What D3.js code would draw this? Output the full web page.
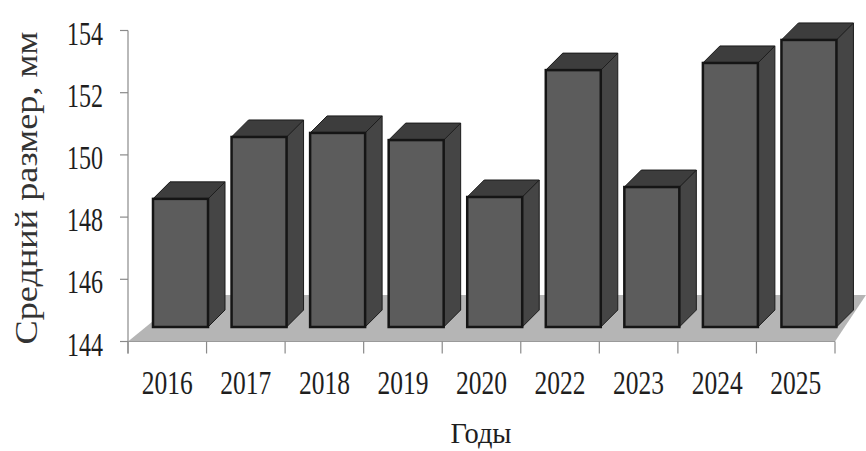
<!DOCTYPE html>
<html><head><meta charset="utf-8">
<script src="https://cdn.jsdelivr.net/npm/d3@7/dist/d3.min.js"></script>
<style>body{margin:0;background:#fff}svg{display:block}</style>
</head><body>
<svg id="c" width="866" height="451"></svg>
<script>
const categories = ["2016","2017","2018","2019","2020","2022","2023","2024","2025"];
const values = [148.12, 150.11, 150.24, 150.01, 148.18, 152.26, 148.5, 152.49, 153.23];
const yTicks = [144, 146, 148, 150, 152, 154];
const yTitle = "Средний размер, мм";
const xTitle = "Годы";

const svg = d3.select("#c");
const font = "'Liberation Serif','Times New Roman',serif";
const y = d3.scaleLinear().domain([144,154]).range([341.5,30.5]);
const x = d3.scaleBand().domain(categories).range([128,835]).padding(0);

// floor
const fy = y(144), backY = 295;
svg.append("polygon")
  .attr("points",[[128,fy],[835,fy],[866,backY],[185,backY]].map(p=>p.join(",")).join(" "))
  .attr("fill","#b5b5b5");

// axes
svg.append("line").attr("x1",128).attr("x2",128).attr("y1",y(154)).attr("y2",fy+12)
  .attr("stroke","#8a8a8a").attr("stroke-width",1.2);
svg.append("line").attr("x1",120).attr("x2",835).attr("y1",fy).attr("y2",fy)
  .attr("stroke","#9a9a9a").attr("stroke-width",1.2);
svg.selectAll(".yt").data(yTicks).join("line")
  .attr("x1",120).attr("x2",128).attr("y1",d=>y(d)).attr("y2",d=>y(d))
  .attr("stroke","#8a8a8a").attr("stroke-width",1.2);
const bounds = categories.map(c=>x(c)).concat([x.range()[1]]);
svg.selectAll(".xt").data(bounds).join("line")
  .attr("x1",d=>d).attr("x2",d=>d).attr("y1",fy).attr("y2",fy+12)
  .attr("stroke","#8a8a8a").attr("stroke-width",1.2);

// bars
const off = 25, bw = 55, dx = 17, dy = -17, shift = -14.5;
const g = svg.append("g");
categories.forEach((c,i)=>{
  const x0 = x(c)+off, x1 = x0+bw;
  const top = y(values[i])+shift, bot = y(144)+shift;
  const pts = a=>a.map(p=>p.join(",")).join(" ");
  g.append("polygon").attr("points",pts([[x1,top],[x1+dx,top+dy],[x1+dx,bot+dy],[x1,bot]]))
    .attr("fill","#454545").attr("stroke","#1c1c1c").attr("stroke-width",1);
  g.append("polygon").attr("points",pts([[x0,top],[x0+dx,top+dy],[x1+dx,top+dy],[x1,top]]))
    .attr("fill","#3d3d3d").attr("stroke","#1c1c1c").attr("stroke-width",1);
  g.append("rect").attr("x",x0).attr("y",top).attr("width",bw).attr("height",bot-top)
    .attr("fill","#5c5c5c").attr("stroke","#151515").attr("stroke-width",2.5);
});

// y tick labels
svg.selectAll(".yl").data(yTicks).join("text")
  .attr("x",103).attr("y",d=>y(d)+14).attr("text-anchor","end")
  .attr("font-family",font).attr("font-size",33).attr("fill","#1e1e1e")
  .attr("textLength",36).attr("lengthAdjust","spacingAndGlyphs")
  .text(d=>d);

// x labels
svg.selectAll(".xl").data(categories).join("text")
  .attr("x",d=>x(d)+x.bandwidth()/2).attr("y",394).attr("text-anchor","middle")
  .attr("font-family",font).attr("font-size",33).attr("fill","#1e1e1e")
  .attr("textLength",51).attr("lengthAdjust","spacingAndGlyphs")
  .text(d=>d);

// titles
svg.append("text").attr("x",481).attr("y",443).attr("text-anchor","middle")
  .attr("font-family",font).attr("font-size",30).attr("fill","#1e1e1e")
  .attr("textLength",61).attr("lengthAdjust","spacingAndGlyphs").text(xTitle);
svg.append("text").attr("transform","translate(37,188) rotate(-90)").attr("text-anchor","middle")
  .attr("font-family",font).attr("font-size",31).attr("fill","#333")
  .attr("textLength",313).attr("lengthAdjust","spacingAndGlyphs").text(yTitle);
</script>
</body></html>
